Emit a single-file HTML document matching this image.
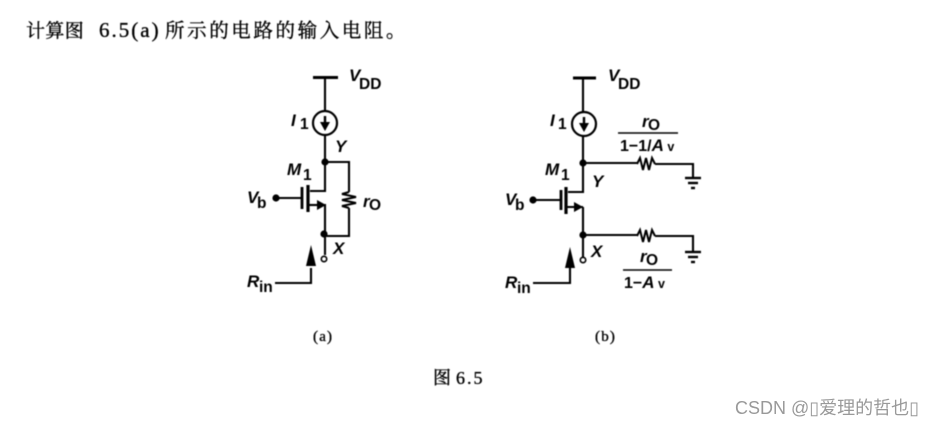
<!DOCTYPE html>
<html><head><meta charset="utf-8">
<style>
html,body{margin:0;padding:0;background:#fff;}
#w{position:relative;width:936px;height:425px;overflow:hidden;background:#fff;}
svg{position:absolute;left:0;top:0;filter:blur(0.45px);}
.s{font-family:"Liberation Serif","Noto Serif CJK SC",serif;fill:#000;stroke:#000;stroke-width:0.35px;}
.l{font-family:"Liberation Sans",sans-serif;font-weight:bold;fill:#000;}
.i{font-style:italic;}
.w{position:absolute;left:735px;top:394px;font:18px "Liberation Sans","Noto Sans CJK SC",sans-serif;color:#999;white-space:nowrap;}
</style></head><body><div id="w">
<svg width="936" height="425" viewBox="0 0 936 425">
<text class="s" x="26" y="37" font-size="19" letter-spacing="0.4">计算图</text>
<text class="s" x="99" y="37" font-size="21" letter-spacing="2">6.5(a)</text>
<text class="s" x="165" y="37" font-size="19.5" letter-spacing="2.6">所示的电路的输入电阻。</text>
<g fill="none" stroke="#000" stroke-width="2.1">
<!-- circuit a -->
<path d="M313 77.5H338" stroke-width="3"/>
<path d="M325 78V111M325 135V191H310M325 162H349V192M349 208V236H324M324 205H325V236V255"/>
<circle cx="325" cy="123" r="12" stroke-width="2.2"/>
<path d="M325 116V124" stroke-width="2.4"/>
<path d="M349 192L342 194L356 197L342 200L356 203L342 206L349 208" stroke-width="2"/>
<path d="M302 187V209" stroke-width="2.8"/>
<path d="M308 185V212" stroke-width="3.2"/>
<path d="M276 198H302"/>
<path d="M309 205H318"/>
<circle cx="324" cy="259" r="2.7" fill="#fff" stroke-width="1.6"/>
<path d="M311 268V283H275"/>
<!-- circuit b -->
<path d="M573 78H596" stroke-width="3"/>
<path d="M583 78V112M583 136V192H568M583 163H637M655 164H693V178M583 207V260M583 235H637M655 236H693V252"/>
<circle cx="584" cy="124" r="12" stroke-width="2.2"/>
<path d="M584 117V125" stroke-width="2.4"/>
<path d="M637 164L640 158L643 170L646 158L649 170L652 158L655 164" stroke-width="2"/>
<path d="M637 236L640 230L643 242L646 230L649 242L652 230L655 236" stroke-width="2"/>
<path d="M561 190V210" stroke-width="2.8"/>
<path d="M566 187V214" stroke-width="3.2"/>
<path d="M533 200H561"/>
<path d="M567 207H576M576 207H583"/>
<circle cx="583" cy="260" r="2.7" fill="#fff" stroke-width="1.6"/>
<path d="M570 268V283H533"/>
<!-- grounds -->
<path d="M685 178H701" stroke-width="2.4"/><path d="M688 183H698" stroke-width="2.4"/><path d="M691 188H695" stroke-width="2.4"/>
<path d="M685 252H701" stroke-width="2.4"/><path d="M688 257H698" stroke-width="2.4"/><path d="M691 262H695" stroke-width="2.4"/>
<!-- fractions -->
<path d="M618 133H678" stroke-width="1.6"/>
<path d="M623 270H672" stroke-width="1.6"/>
</g>
<g fill="#000">
<circle cx="325" cy="162" r="3.6"/><circle cx="324" cy="234" r="3.6"/><circle cx="276" cy="198" r="3.6"/>
<circle cx="583" cy="163" r="3.6"/><circle cx="583" cy="235" r="3.6"/><circle cx="533" cy="200" r="3.6"/>
<path d="M320 122H330L325 131Z"/><path d="M579 123H589L584 132Z"/>
<path d="M326 205L317 200V210Z"/>
<path d="M583 207L574 202V212Z"/>
<path d="M311 245L306 266H316Z"/><path d="M570 247L565 268H575Z"/>
</g>
<g class="l" font-size="17">
<text class="l i" x="349" y="81">V</text><text class="l" x="359" y="89" font-size="15.5">DD</text>
<text class="l i" x="608" y="81">V</text><text class="l" x="618" y="89" font-size="15.5">DD</text>
<text class="l i" x="291" y="126">I</text><text class="l" x="300" y="129" font-size="15.5">1</text>
<text class="l i" x="550" y="126">I</text><text class="l" x="558" y="129" font-size="15.5">1</text>
<text class="l i" x="335" y="152">Y</text>
<text class="l i" x="592" y="187">Y</text>
<text class="l i" x="287" y="175">M</text><text class="l" x="303" y="180" font-size="15.5">1</text>
<text class="l i" x="545" y="175">M</text><text class="l" x="561" y="180" font-size="15.5">1</text>
<text class="l i" x="247" y="203">V</text><text class="l" x="257" y="208" font-size="15.5">b</text>
<text class="l i" x="505" y="205">V</text><text class="l" x="515" y="210" font-size="15.5">b</text>
<text class="l i" x="363" y="207">r</text><text class="l" x="369" y="210" font-size="15.5">O</text>
<text class="l i" x="333" y="254">X</text>
<text class="l i" x="591" y="257">X</text>
<text class="l i" x="247" y="287">R</text><text class="l" x="259" y="292" font-size="15.5">in</text>
<text class="l i" x="505" y="288">R</text><text class="l" x="517" y="293" font-size="15.5">in</text>
<text class="l i" x="642" y="127">r</text><text class="l" x="648" y="130" font-size="15.5">O</text>
<text class="l" x="620" y="151" font-size="16">1−1/<tspan class="i" font-size="17">A</tspan><tspan font-size="12.5"> v</tspan></text>
<text class="l i" x="640" y="262">r</text><text class="l" x="646" y="265" font-size="15.5">O</text>
<text class="l" x="624" y="288" font-size="16">1−<tspan class="i" font-size="17">A</tspan><tspan font-size="12.5"> v</tspan></text>
</g>
<text class="s" x="313" y="341" font-size="15" letter-spacing="1.2">(a)</text>
<text class="s" x="595" y="341" font-size="15" letter-spacing="1.2">(b)</text>
<text class="s" x="433" y="384" font-size="18">图</text>
<text class="s" x="456" y="384" font-size="18" letter-spacing="2">6.5</text>
</svg>
<div class="w">CSDN @▯爱理的哲也▯</div>
</div></body></html>
